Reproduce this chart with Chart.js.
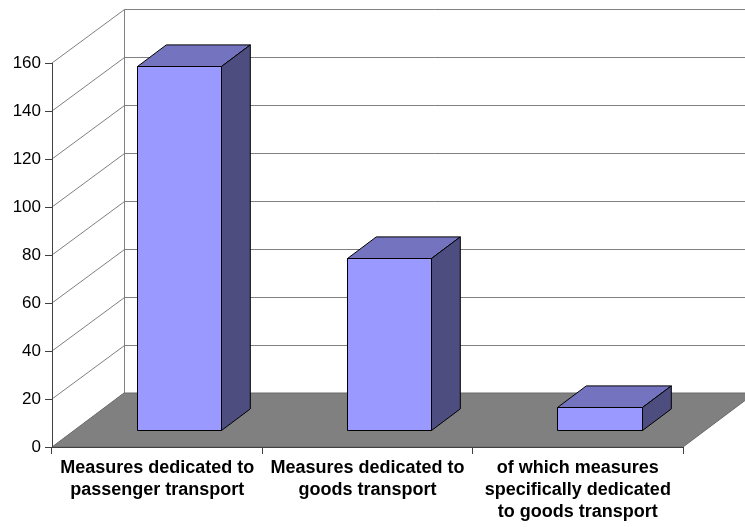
<!DOCTYPE html>
<html>
<head>
<meta charset="utf-8">
<script src="https://cdn.jsdelivr.net/npm/chart.js@4"></script>
<style>
  html, body { margin: 0; padding: 0; background: #ffffff; }
  canvas { display: block; }
</style>
</head>
<body>
<canvas id="chart" width="745" height="527"></canvas>
<script>
// Categories (multi-line labels) and the number of measures in each
const categories = [
  ['Measures dedicated to', 'passenger transport'],
  ['Measures dedicated to', 'goods transport'],
  ['of which measures', 'specifically dedicated', 'to goods transport']
];
const measureCounts = [152, 72, 10];
const valueTicks = [0, 20, 40, 60, 80, 100, 120, 140, 160];

// 3D look: depth vector of the floor / side wall, and the slice of depth the boxes occupy
const DEPTH_X = 72;
const DEPTH_Y = -54;
const BOX_FRONT = 0.3;
const BOX_BACK = 0.7;

const FONT = '"Liberation Sans", Arial, Helvetica, sans-serif';
const GRID_COLOR = '#808080';
const AXIS_COLOR = '#404040';

const crisp = v => Math.round(v) + 0.5;

// Back wall, side wall gridlines and grey floor, drawn before the axes
const walls3d = {
  id: 'walls3d',
  beforeDraw(chart) {
    const { ctx, chartArea: a, scales: { y } } = chart;
    const y0 = y.getPixelForValue(0);
    const yTop = y.getPixelForValue(valueTicks[valueTicks.length - 1]);
    ctx.save();
    ctx.fillStyle = '#ffffff';
    ctx.fillRect(0, 0, chart.width, chart.height);

    // gridlines: diagonal on the side wall, horizontal on the back wall
    ctx.strokeStyle = GRID_COLOR;
    ctx.lineWidth = 1;
    valueTicks.forEach(v => {
      if (v === 0) return;
      const py = y.getPixelForValue(v);
      ctx.beginPath();
      ctx.moveTo(a.left, py);
      ctx.lineTo(crisp(a.left + DEPTH_X), crisp(py + DEPTH_Y));
      ctx.lineTo(chart.width, crisp(py + DEPTH_Y));
      ctx.stroke();
    });
    // corner between the side wall and the back wall
    ctx.beginPath();
    ctx.moveTo(crisp(a.left + DEPTH_X), crisp(yTop + DEPTH_Y));
    ctx.lineTo(crisp(a.left + DEPTH_X), crisp(y0 + DEPTH_Y));
    ctx.stroke();

    // floor
    ctx.fillStyle = '#808080';
    ctx.strokeStyle = '#6a6a6a';
    ctx.beginPath();
    ctx.moveTo(a.left, y0);
    ctx.lineTo(a.right, y0);
    ctx.lineTo(a.right + DEPTH_X, y0 + DEPTH_Y);
    ctx.lineTo(a.left + DEPTH_X, y0 + DEPTH_Y);
    ctx.closePath();
    ctx.fill();
    ctx.stroke();
    ctx.restore();
  }
};

// Extruded boxes built from each bar element's geometry
const boxes3d = {
  id: 'boxes3d',
  afterDatasetsDraw(chart) {
    const { ctx } = chart;
    const meta = chart.getDatasetMeta(0);
    const dx = DEPTH_X * (BOX_BACK - BOX_FRONT);
    const dy = DEPTH_Y * (BOX_BACK - BOX_FRONT);
    ctx.save();
    ctx.lineWidth = 1;
    ctx.strokeStyle = '#000000';
    ctx.lineJoin = 'miter';
    meta.data.forEach(bar => {
      const { x, y, base, width } = bar.getProps(['x', 'y', 'base', 'width'], true);
      const l = crisp(x - width / 2 + DEPTH_X * BOX_FRONT);
      const r = crisp(x + width / 2 + DEPTH_X * BOX_FRONT);
      const t = crisp(y + DEPTH_Y * BOX_FRONT);
      const b = crisp(base + DEPTH_Y * BOX_FRONT);

      // front face
      ctx.fillStyle = '#9999ff';
      ctx.beginPath();
      ctx.rect(l, t, r - l, b - t);
      ctx.fill();
      ctx.stroke();

      // top face
      ctx.fillStyle = '#7373bf';
      ctx.beginPath();
      ctx.moveTo(l, t);
      ctx.lineTo(r, t);
      ctx.lineTo(r + dx, t + dy);
      ctx.lineTo(l + dx, t + dy);
      ctx.closePath();
      ctx.fill();
      ctx.stroke();

      // right side face
      ctx.fillStyle = '#4d4d80';
      ctx.beginPath();
      ctx.moveTo(r, t);
      ctx.lineTo(r + dx, t + dy);
      ctx.lineTo(r + dx, b + dy);
      ctx.lineTo(r, b);
      ctx.closePath();
      ctx.fill();
      ctx.stroke();
    });
    ctx.restore();
  }
};

new Chart(document.getElementById('chart'), {
  type: 'bar',
  data: {
    labels: categories,
    datasets: [{
      data: measureCounts,
      backgroundColor: 'rgba(0,0,0,0)',
      borderWidth: 0,
      categoryPercentage: 1.0,
      barPercentage: 0.4
    }]
  },
  options: {
    responsive: false,
    devicePixelRatio: 1,
    animation: false,
    layout: { padding: { top: 63, right: 62, left: 0, bottom: 0 } },
    plugins: {
      legend: { display: false },
      tooltip: { enabled: false }
    },
    scales: {
      x: {
        type: 'category',
        offset: true,
        grid: { offset: true, drawOnChartArea: false, drawTicks: true, tickLength: 7, color: AXIS_COLOR },
        border: { display: true, color: AXIS_COLOR, width: 1 },
        ticks: {
          color: '#000000',
          font: { family: FONT, size: 18, weight: 'bold', lineHeight: 1.22 },
          maxRotation: 0,
          minRotation: 0,
          autoSkip: false,
          padding: 3
        },
        afterFit(scale) { scale.height = 80; }
      },
      y: {
        min: valueTicks[0],
        max: valueTicks[valueTicks.length - 1],
        afterBuildTicks(scale) { scale.ticks = valueTicks.map(v => ({ value: v })); },
        grid: { drawOnChartArea: false, drawTicks: true, tickLength: 7, color: AXIS_COLOR },
        border: { display: true, color: AXIS_COLOR, width: 1 },
        ticks: {
          color: '#000000',
          font: { family: FONT, size: 17 },
          padding: 4
        },
        afterFit(scale) { scale.width = 52; }
      }
    }
  },
  plugins: [walls3d, boxes3d]
});
</script>
</body>
</html>
